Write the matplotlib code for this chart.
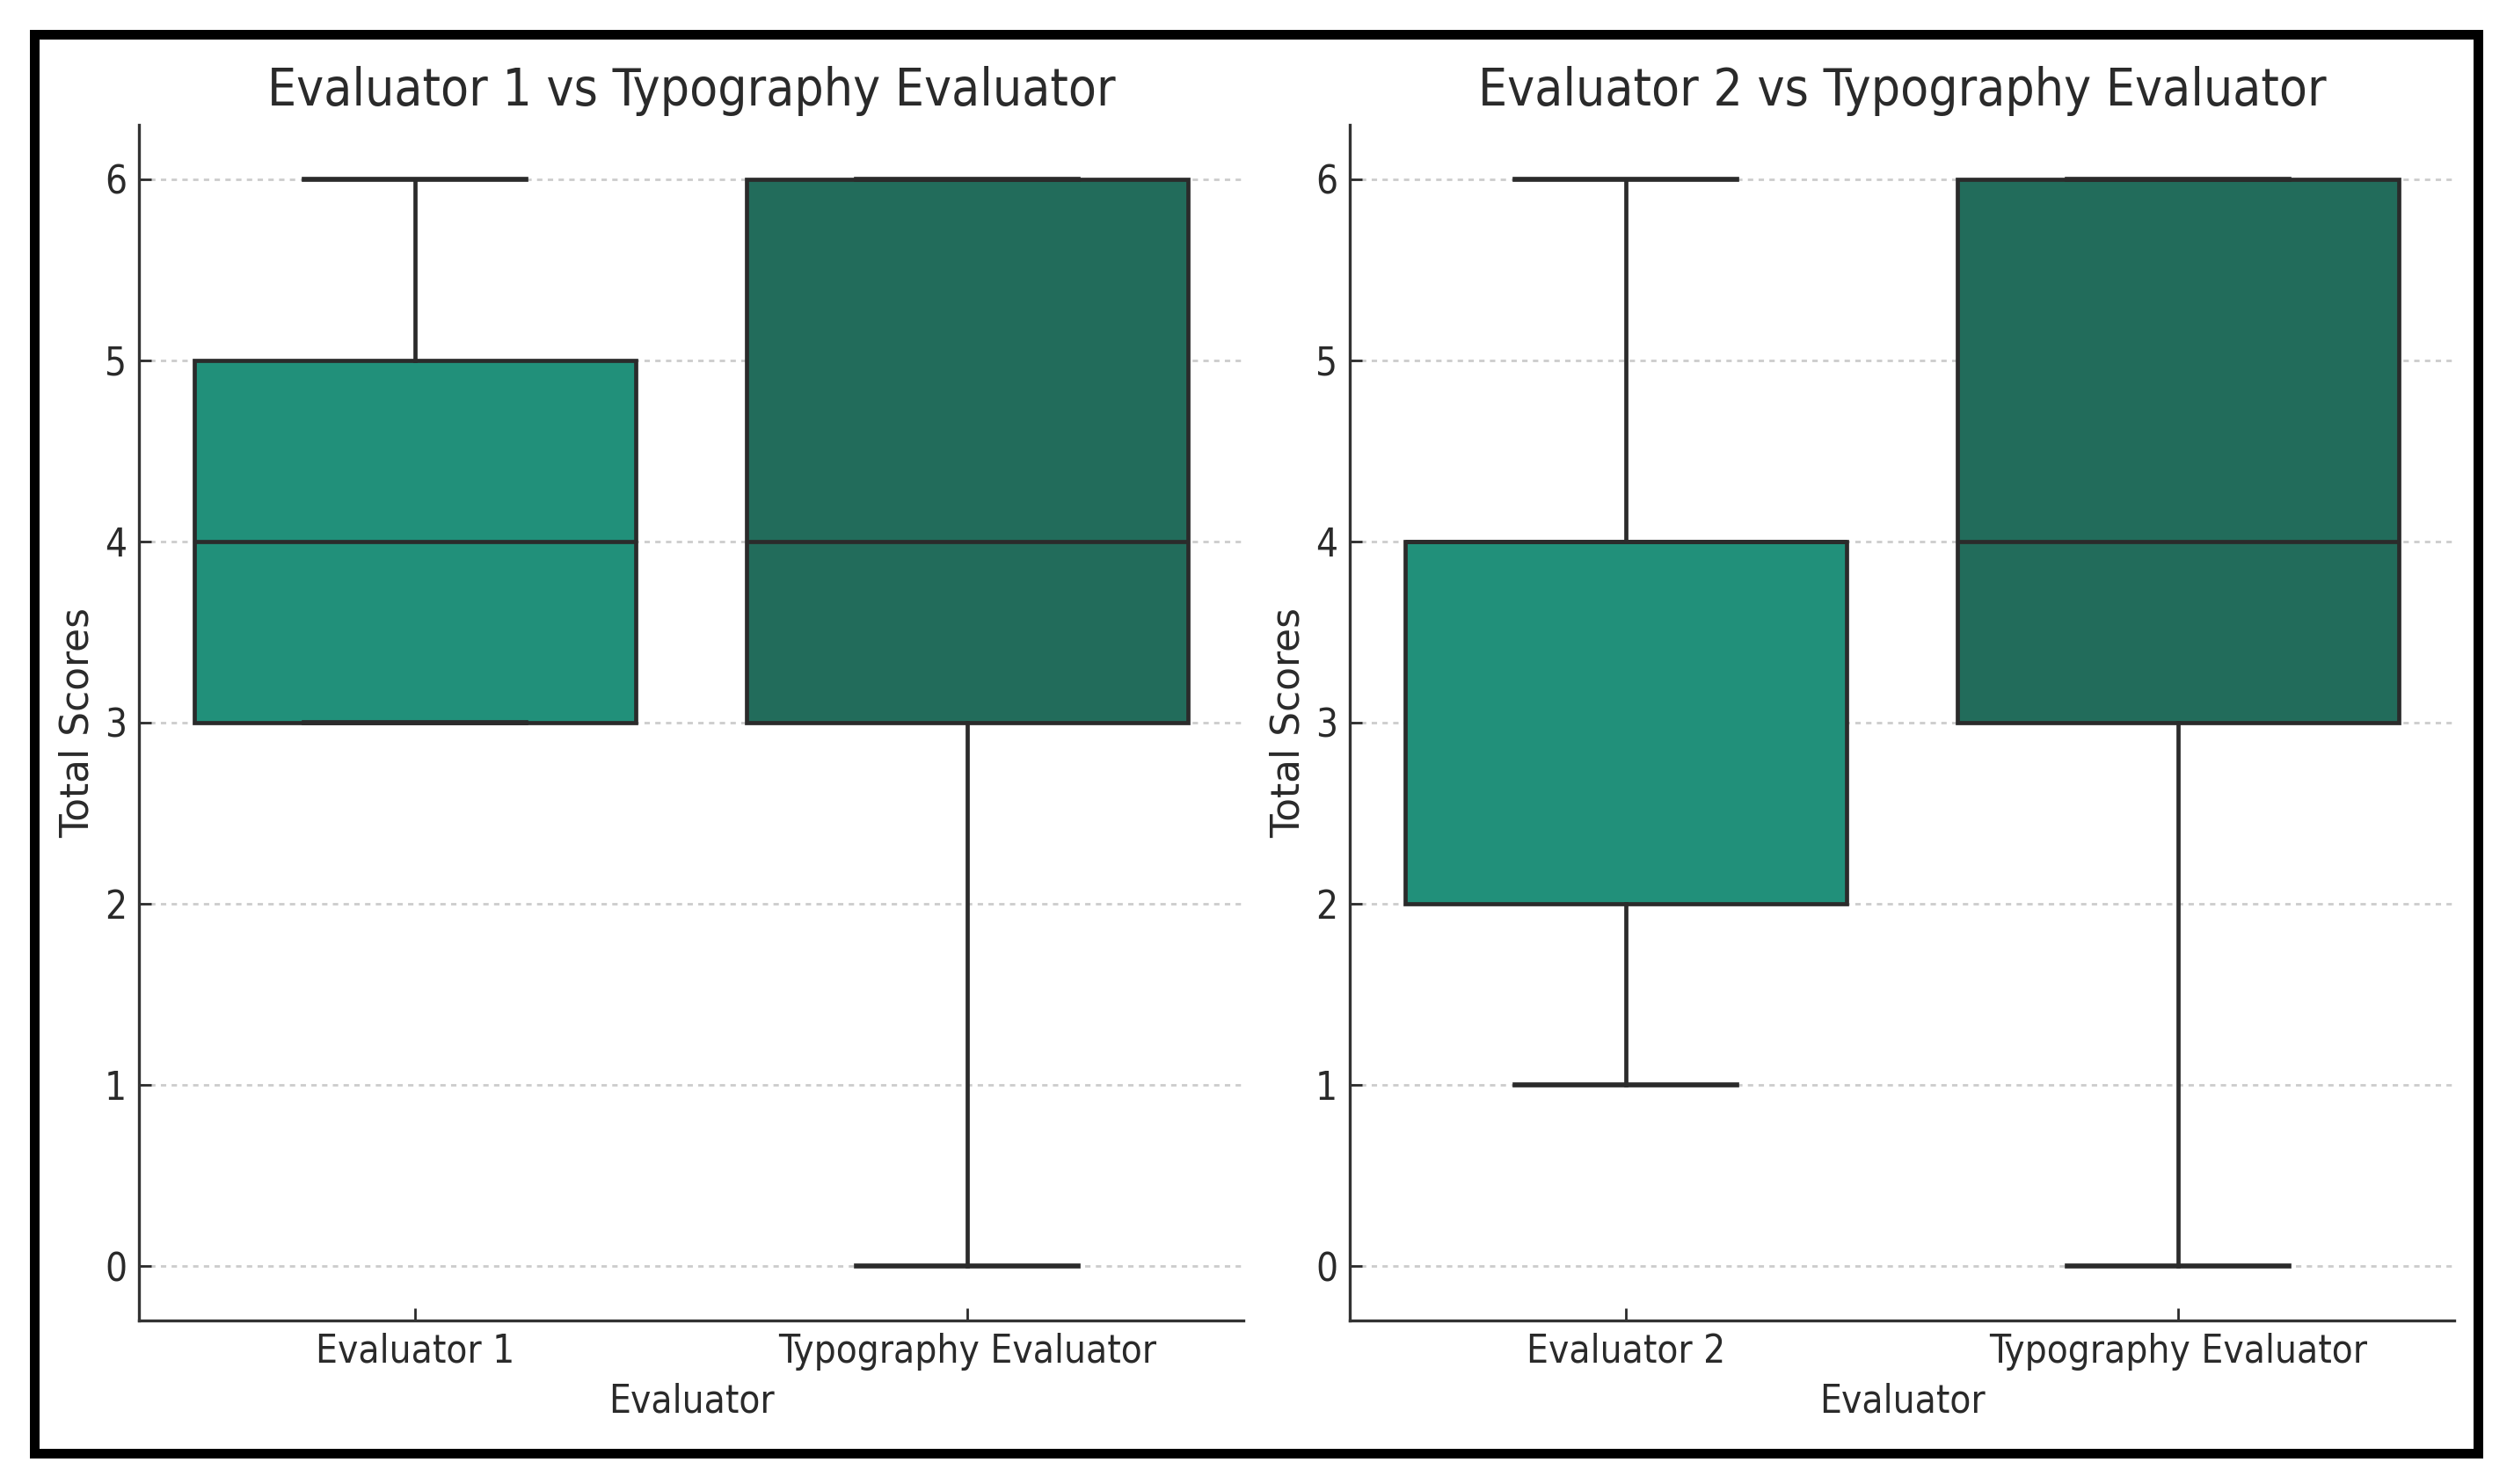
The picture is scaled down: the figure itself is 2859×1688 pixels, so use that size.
import matplotlib
matplotlib.use("Agg")
import matplotlib.pyplot as plt
from matplotlib.patches import Rectangle

# ---- data (box statistics) ----
titles = ["Evaluator 1 vs Typography Evaluator", "Evaluator 2 vs Typography Evaluator"]
categories_left = ["Evaluator 1", "Typography Evaluator"]
categories_right = ["Evaluator 2", "Typography Evaluator"]

whislo_left = [3, 0]
q1_left = [3, 3]
med_left = [4, 4]
q3_left = [5, 6]
whishi_left = [6, 6]

whislo_right = [1, 0]
q1_right = [2, 3]
med_right = [4, 4]
q3_right = [4, 6]
whishi_right = [6, 6]

yticks = [0, 1, 2, 3, 4, 5, 6]
box_colors = ["#21907A", "#226C5B"]

plt.rcParams['font.family'] = ['DejaVu Sans']
TXT = dict(fontstretch='condensed', color='#2a2a2a')
EDGE = '#2b2b2b'

W, H, DPI = 2859, 1688, 200
fig = plt.figure(figsize=(W / DPI, H / DPI), dpi=DPI)

ax_w = 1256 / W
ax_b = 1 - 1502 / H
ax_h = (1502 - 142) / H
axL = fig.add_axes([158 / W, ax_b, ax_w, ax_h])
axR = fig.add_axes([1535 / W, ax_b, ax_w, ax_h])


def make_stats(labels, lo, q1, med, q3, hi):
    return [dict(label=l, whislo=a, q1=b, med=c, q3=d, whishi=e, fliers=[])
            for l, a, b, c, d, e in zip(labels, lo, q1, med, q3, hi)]


panels = [
    (axL, titles[0], make_stats(categories_left, whislo_left, q1_left, med_left, q3_left, whishi_left)),
    (axR, titles[1], make_stats(categories_right, whislo_right, q1_right, med_right, q3_right, whishi_right)),
]

lw = 1.7
for ax, title, stats in panels:
    ax.set_axisbelow(True)
    ax.yaxis.grid(True, linestyle=(0, (2.2, 2.2)), color='#cccccc', linewidth=1.0)
    ax.xaxis.grid(False)
    bp = ax.bxp(stats, positions=[0, 1], widths=0.8, capwidths=0.4,
                patch_artist=True, showfliers=False,
                boxprops=dict(edgecolor=EDGE, linewidth=lw),
                whiskerprops=dict(color=EDGE, linewidth=lw),
                capprops=dict(color=EDGE, linewidth=lw * 1.2),
                medianprops=dict(color=EDGE, linewidth=lw))
    for patch, c in zip(bp['boxes'], box_colors):
        patch.set_facecolor(c)
    ax.set_xlim(-0.5, 1.5)
    ax.set_ylim(-0.3, 6.3)
    ax.set_yticks(yticks)
    ax.set_yticklabels([str(t) for t in yticks], fontsize=15.8, **TXT)
    ax.set_xticks([0, 1])
    ax.set_xticklabels([s['label'] for s in stats], fontsize=15.8, **TXT)
    ax.tick_params(axis='both', direction='in', length=5, width=1.0, color=EDGE, pad=5)
    for side in ['top', 'right']:
        ax.spines[side].set_visible(False)
    for side in ['left', 'bottom']:
        ax.spines[side].set_color('#333333')
        ax.spines[side].set_linewidth(1.2)
    ax.set_title(title, fontsize=21, pad=8, **TXT)
    ax.set_xlabel("Evaluator", fontsize=15.8, labelpad=5, **TXT)
    ax.set_ylabel("Total Scores", fontsize=15.8, labelpad=3.5, color='#2a2a2a')

# outer black frame
bw = 11
fig.patches.append(Rectangle(((33 + bw / 2) / W, 1 - (1658 - bw / 2) / H),
                             (2823 - 33 - bw) / W, (1658 - 33 - bw) / H,
                             transform=fig.transFigure, fill=False,
                             edgecolor='black', linewidth=bw * 72 / DPI))

fig.savefig("out.png", dpi=DPI, facecolor='white')
